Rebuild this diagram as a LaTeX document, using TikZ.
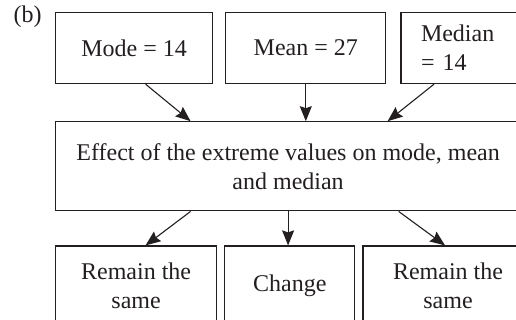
\documentclass[tikz,border=0pt]{standalone}
\usepackage{fontspec}
\setmainfont{Liberation Serif}
\usetikzlibrary{positioning,arrows.meta}
\definecolor{ink}{HTML}{231F20}

\begin{document}
\begin{tikzpicture}[x=1pt,y=1pt,
  every node/.style={text=ink, font=\fontsize{24}{29}\selectfont},
  box/.style={draw=ink, line width=1.2pt, rectangle, align=center, inner sep=0pt},
  arr/.style={draw=ink, line width=1.1pt, -{Stealth[length=15pt,width=12pt,inset=2pt]}}]
  \useasboundingbox (0,0) rectangle (516,320);

  \node (lbl) at (27.5,303) {(b)};

  % top row
  \node[box, minimum width=157pt, minimum height=71pt, anchor=north west] (mode) at (55,308) {Mode = 14};
  \node[box, minimum width=160pt, minimum height=71pt, right=12pt of mode] (mean) {Mean = 27};
  \node[box, minimum height=71pt, text width=90pt, inner xsep=20pt, align=left, right=14pt of mean] (median) {Median\\= 14};

  % middle
  \node[box, minimum width=465pt, minimum height=89pt, below right=37pt and 0pt of mode.south west] (effect) {Effect of the extreme values on mode, mean\\and median};

  % bottom row
  \node[box, minimum width=161pt, minimum height=80pt, below right=34pt and 0pt of effect.south west] (same1) {Remain the\\same};
  \node[box, minimum width=130pt, minimum height=80pt, right=7pt of same1] (change) {Change};
  \node[box, minimum width=170pt, minimum height=80pt, right=7pt of change] (same2) {Remain the\\same};

  \draw[arr] ([xshift=11.5pt]mode.south) -- ([xshift=-97.5pt]effect.north);
  \draw[arr] (mean.south) -- (mean.south |- effect.north);
  \draw[arr] ([xshift=-32pt]median.south) -- ([xshift=99.5pt]effect.north);

  \draw[arr] ([xshift=-97.5pt]effect.south) -- ([xshift=9.5pt]same1.north);
  \draw[arr] (effect.south) -- (effect.south |- change.north);
  \draw[arr] ([xshift=110.5pt]effect.south) -- ([xshift=-3pt]same2.north);
\end{tikzpicture}
\end{document}
